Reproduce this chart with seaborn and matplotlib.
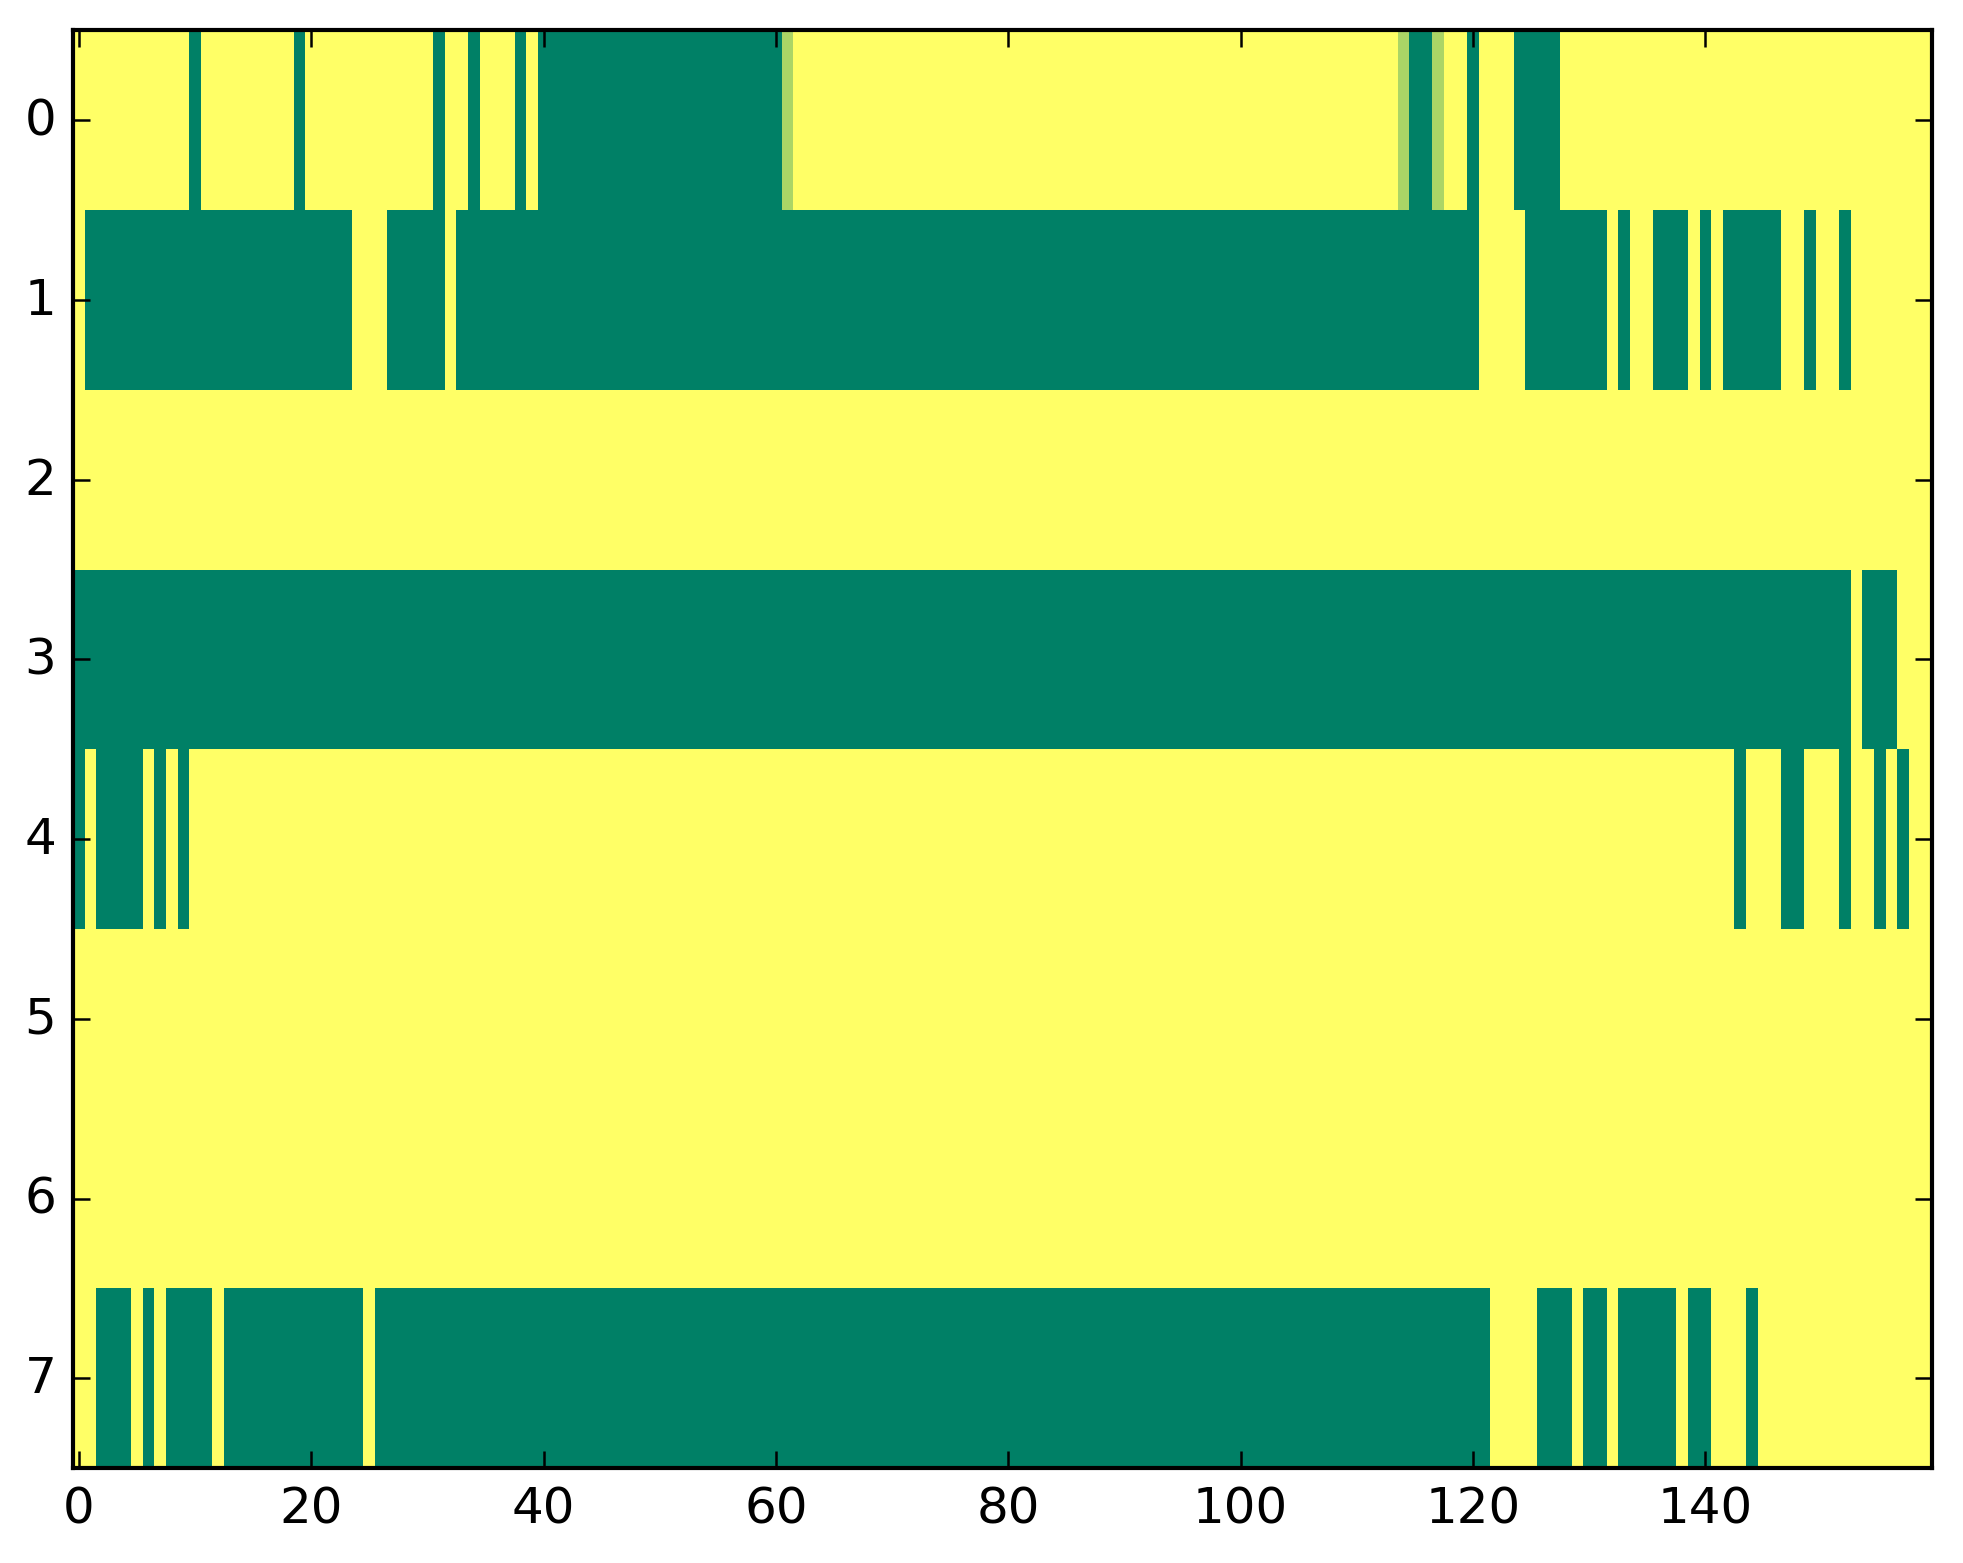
import numpy as np
import seaborn as sns
import matplotlib.pyplot as plt

# one string per row, one character per column (160 columns)
# '0' = low (green), '1' = high (yellow), 'm' = in between
row0 = ("1111111111 0111111110 1111111111 1011011101 0000000000 0000000000 "
        "0m11111111 1111111111 1111111111 1111111111 1111111111 1111m00m11 "
        "0111000011 1111111111 1111111111 1111111111")
row1 = ("1000000000 0000000000 0000111000 0010000000 0000000000 0000000000 "
        "0000000000 0000000000 0000000000 0000000000 0000000000 0000000000 "
        "0111100000 0010110001 0100000110 1101111111")
row2 = "1" * 160
row3 = ("0000000000 0000000000 0000000000 0000000000 0000000000 0000000000 "
        "0000000000 0000000000 0000000000 0000000000 0000000000 0000000000 "
        "0000000000 0000000000 0000000000 0001000111")
row4 = ("0100001010 1111111111 1111111111 1111111111 1111111111 1111111111 "
        "1111111111 1111111111 1111111111 1111111111 1111111111 1111111111 "
        "1111111111 1111111111 1110111001 1101101011")
row5 = "1" * 160
row6 = "1" * 160
row7 = ("1100010100 0010000000 0000010000 0000000000 0000000000 0000000000 "
        "0000000000 0000000000 0000000000 0000000000 0000000000 0000000000 "
        "0011110001 0010000010 0111011111 1111111111")

rows = [row0, row1, row2, row3, row4, row5, row6, row7]
codes = {'0': 0.0, '1': 1.0, 'm': 0.67}

x_ticks = [0, 20, 40, 60, 80, 100, 120, 140]
y_ticks = [0, 1, 2, 3, 4, 5, 6, 7]


def decode(row):
    return [codes[c] for c in row.replace(' ', '')]


grid = np.array([decode(r) for r in rows])

sns.set_style('white')
plt.rcParams['font.family'] = ['DejaVu Sans']

fig = plt.figure(figsize=(1963 / 300, 1564 / 300), dpi=300)
ax = fig.add_axes([0.0372, 0.0607, 0.947, 0.9192])

sns.heatmap(grid, cmap='summer', vmin=0, vmax=1, cbar=False, ax=ax)

# heatmap hides the frame, the reference keeps it
for spine in ax.spines.values():
    spine.set_visible(True)
    spine.set_color('black')
    spine.set_linewidth(1.0)

# ticks point inward, so draw them on top of the cells
ax.set_axisbelow(False)

ax.set_xticks([t + 0.5 for t in x_ticks])
ax.set_xticklabels([str(t) for t in x_ticks], rotation=0)
ax.set_yticks([t + 0.5 for t in y_ticks])
ax.set_yticklabels([str(t) for t in y_ticks], rotation=0, va='center')

ax.tick_params(axis='both', direction='in', length=4, width=0.6, color='black',
               labelsize=12, labelcolor='black', pad=4,
               top=True, right=True, bottom=True, left=True,
               labeltop=False, labelright=False)

fig.savefig('out.png', dpi=300, facecolor='white')
